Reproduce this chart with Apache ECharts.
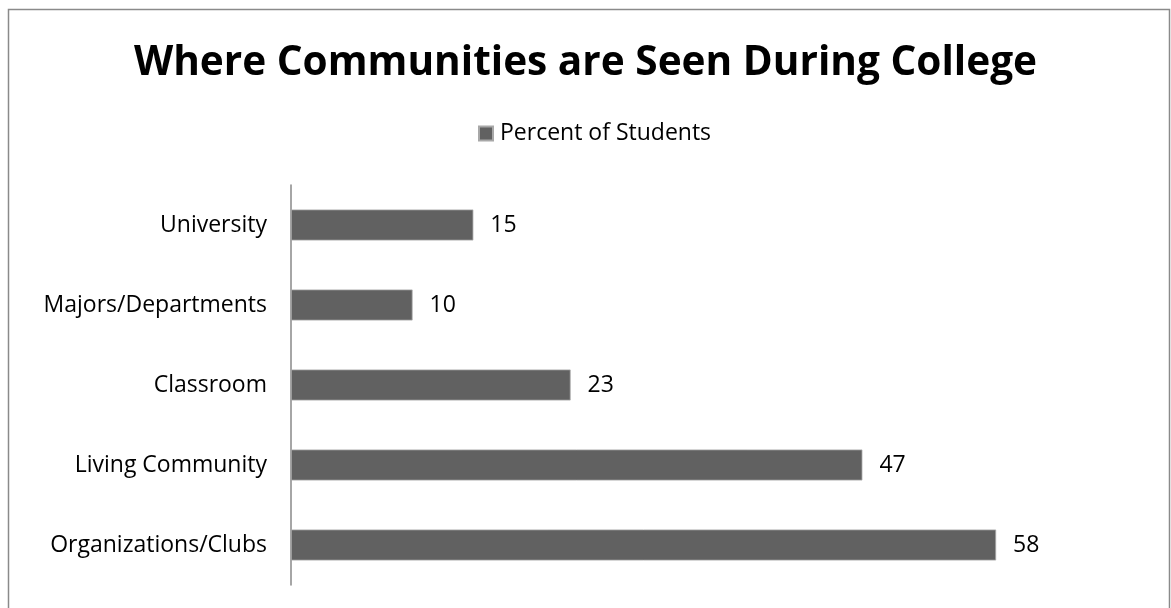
<!DOCTYPE html>
<html>
<head>
<meta charset="utf-8">
<script src="https://cdn.jsdelivr.net/npm/echarts@6/dist/echarts.min.js"></script>
<style>
  html, body { margin: 0; padding: 0; background: #fff; }
  #chart { width: 1171px; height: 608px; }
</style>
</head>
<body>
<div id="chart"></div>
<script>
// Places where students say they find community
const categories = ['University', 'Majors/Departments', 'Classroom', 'Living Community', 'Organizations/Clubs'];
const percentOfStudents = [15, 10, 23, 47, 58];
const seriesName = 'Percent of Students';
const titleText = 'Where Communities are Seen During College';

const FONT = '"Open Sans", "Noto Sans", sans-serif';
const chart = echarts.init(document.getElementById('chart'));

chart.setOption({
  backgroundColor: '#ffffff',
  animation: false,
  title: {
    text: titleText,
    left: 'center',
    top: 38,
    textStyle: { fontFamily: FONT, fontWeight: 'bold', fontSize: 40.6, color: '#000' }
  },
  legend: {
    data: [seriesName],
    left: 478,
    top: 122,
    padding: 0,
    icon: 'rect',
    itemWidth: 14,
    itemHeight: 14,
    itemGap: 6,
    textStyle: { fontFamily: FONT, fontSize: 23, color: '#000', padding: [0, 0, 0, 2] }
  },
  graphic: [{
    type: 'rect',
    shape: { x: 8.5, y: 9.5, width: 1161, height: 620 },
    style: { fill: 'none', stroke: '#8a8a8a', lineWidth: 1.5 },
    silent: true
  }],
  grid: { left: 291, right: 29, top: 185, bottom: 23, containLabel: false },
  xAxis: {
    type: 'value',
    min: 0,
    max: 70,
    show: false
  },
  yAxis: {
    type: 'category',
    data: categories,
    inverse: true,
    axisLine: { show: true, lineStyle: { color: '#888888', width: 1.5 } },
    axisTick: { show: false },
    axisLabel: { fontFamily: FONT, fontSize: 23, color: '#000', margin: 24 },
    splitLine: { show: false }
  },
  series: [{
    name: seriesName,
    type: 'bar',
    data: percentOfStudents,
    barWidth: 31,
    itemStyle: { color: '#616161', borderColor: '#a8a8a8', borderWidth: 0.8 },
    label: {
      show: true,
      position: 'right',
      distance: 17,
      fontFamily: FONT,
      fontSize: 23,
      color: '#000'
    }
  }]
});
</script>
</body>
</html>
